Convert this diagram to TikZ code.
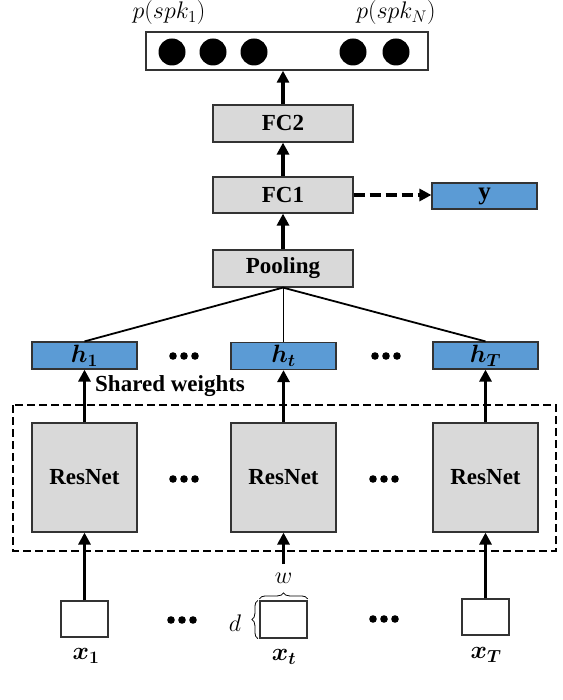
\RequirePackage{fix-cm}
\documentclass[tikz,border=0pt]{standalone}
\usepackage{amsmath,bm}
\usepackage{fontspec}
\setmainfont{Liberation Serif}
\usetikzlibrary{arrows.meta,decorations.pathreplacing}
\definecolor{boxgray}{HTML}{D9D9D9}
\definecolor{boxblue}{HTML}{5B9BD5}
\definecolor{edge}{HTML}{333333}
\tikzset{
  gbox/.style={draw=edge, fill=boxgray, line width=1.2pt, inner sep=0pt,
    font=\fontsize{23}{27}\selectfont\bfseries},
  bbox/.style={draw=edge, fill=boxblue, line width=1.2pt, inner sep=0pt,
    font=\fontsize{25}{29}\selectfont},
  inbox/.style={draw=edge, fill=white, line width=1.2pt, inner sep=0pt,
    minimum width=47pt, minimum height=36pt},
  mlabel/.style={inner sep=0pt, font=\fontsize{25}{29}\selectfont},
  plabel/.style={inner sep=0pt, font=\fontsize{24}{28}\selectfont},
  arr/.style={line width=3.5pt, -{Triangle[length=12pt,width=12pt]}},
  darr/.style={line width=3.5pt, dash pattern=on 11pt off 5pt, -{Triangle[length=12pt,width=12pt]}},
  frame/.style={line width=2.5pt, dash pattern=on 8pt off 4pt},
  thin line/.style={line width=1.8pt},
  bracestyle/.style={line width=0.8pt, decorate, decoration={brace, amplitude=6pt}},
  pics/threedots/.style={code={
    \fill (-11,0) circle (3.8pt) (0,0) circle (3.8pt) (11,0) circle (3.8pt);}}
}
\begin{document}
\begin{tikzpicture}[x=1pt, y=-1pt]
\useasboundingbox (0,0) rectangle (562,700);

% output box
\node[draw=edge, fill=white, line width=1.4pt, minimum width=282pt, minimum height=38pt, inner sep=0pt] (out) at (287,51) {};
\foreach \cx in {172,213,254,353,396} \fill (\cx,52) circle (13.5pt);
\node[plabel] (p1) at (169,13) {$p(spk_1)$};
\node[plabel] (pN) at (396,13) {$p(spk_N)$};

% FC stack
\node[gbox, minimum width=140pt, minimum height=37pt] (fc2) at (283,123.5) {FC2};
\node[gbox, minimum width=140pt, minimum height=36pt] (fc1) at (283,195) {FC1};
\node[gbox, minimum width=140pt, minimum height=37pt] (pool) at (283,268.5) {Pooling};
\node[bbox, minimum width=105pt, minimum height=26pt] (y) at (484.5,196) {$\mathbf{y}$};

% h boxes
\node[bbox, minimum width=105pt, minimum height=27pt] (h1) at (84.5,355.5) {$\bm{h_1}$};
\node[bbox, minimum width=105pt, minimum height=27pt] (ht) at (283.5,356) {$\bm{h_t}$};
\node[bbox, minimum width=105pt, minimum height=27pt] (hT) at (485.5,355.5) {$\bm{h_T}$};
\pic at (184,356) {threedots};
\pic at (386,356) {threedots};

\node[anchor=west, inner sep=0pt, font=\fontsize{23}{27}\selectfont\bfseries] (sw) at (95,386) {Shared weights};

% shared frame
\draw[frame] (13,405) rectangle (556,551);

% ResNets
\node[gbox, minimum width=105pt, minimum height=109pt] (r1) at (84.5,477.5) {ResNet};
\node[gbox, minimum width=105pt, minimum height=109pt] (r2) at (283.5,477.5) {ResNet};
\node[gbox, minimum width=105pt, minimum height=109pt] (r3) at (485.5,477.5) {ResNet};
\pic at (184,479) {threedots};
\pic at (384,479) {threedots};

% inputs
\node[inbox] (x1) at (84.5,619) {};
\node[inbox, minimum height=37pt] (xt) at (283.5,619.5) {};
\node[inbox] (xT) at (485.5,617) {};
\pic at (182,620) {threedots};
\pic at (384,619) {threedots};
\node[mlabel] (lx1) at (86,656) {$\bm{x_1}$};
\node[mlabel] (lxt) at (284,657) {$\bm{x_t}$};
\node[mlabel] (lxT) at (486,655) {$\bm{x_T}$};

% braces
\draw[bracestyle] ([yshift=1.5pt]xt.north west) -- ([yshift=1.5pt]xt.north east);
\node[inner sep=0pt, font=\fontsize{24}{28}\selectfont] (w) at (283.5,578) {$w$};
\draw[bracestyle] ([xshift=-1.5pt]xt.south west) -- ([xshift=-1.5pt]xt.north west);
\node[inner sep=0pt, font=\fontsize{24}{28}\selectfont] (d) at (235,623) {$d$};

% connectors
\draw[arr] (fc2.north) -- (fc2.north |- out.south);
\draw[arr] (fc1.north) -- (fc2.south);
\draw[arr] (pool.north) -- (fc1.south);
\draw[darr] (fc1.east) -- (fc1.east -| y.west);
\draw[thin line] (pool.south) -- (h1.north);
\draw[thin line] (ht.north |- pool.south) -- (ht.north);
\draw[thin line] (pool.south) -- (hT.north);
\draw[arr] (r1.north) -- (h1.south);
\draw[arr] (r2.north) -- (ht.south);
\draw[arr] (r3.north) -- (hT.south);
\draw[arr] (x1.north) -- (r1.south);
\coordinate (stub) at (283.5,564);
\draw[arr] (stub) -- (r2.south);
\draw[arr] (xT.north) -- (r3.south);
\end{tikzpicture}
\end{document}
